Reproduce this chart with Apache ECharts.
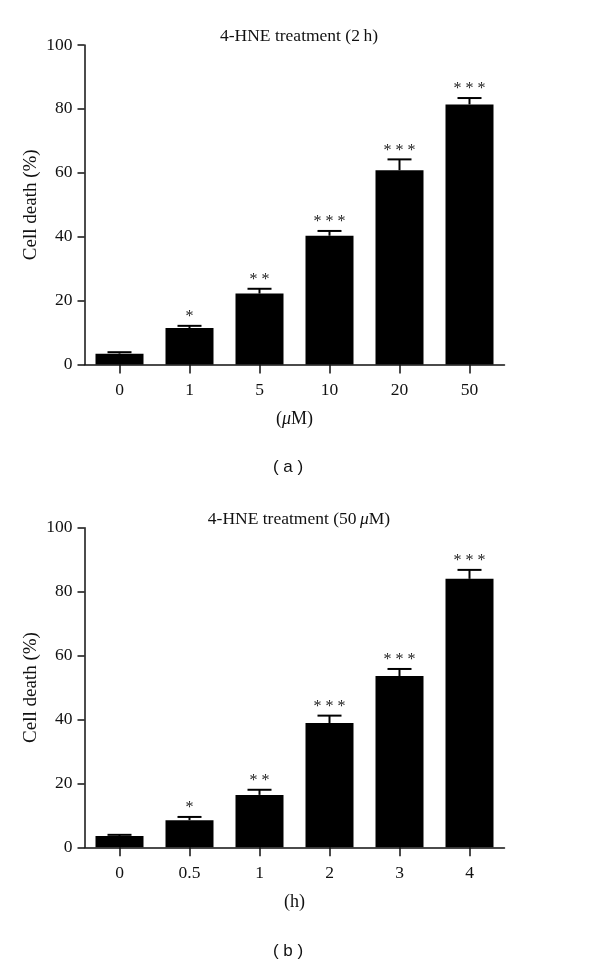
<!DOCTYPE html>
<html>
<head>
<meta charset="utf-8">
<script src="https://cdn.jsdelivr.net/npm/echarts@6/dist/echarts.min.js"></script>
<style>html,body{margin:0;padding:0;background:#fff;}#c{width:600px;height:965px;}</style>
</head>
<body>
<div id="c"></div>
<script>
// Panel (a): 4-HNE treatment for 2 h, dose in µM
var catsA = ['0', '1', '5', '10', '20', '50'];
var valsA = [3.4, 11.4, 22.2, 40.3, 60.8, 81.4];
var errA = [0.45, 0.7, 1.5, 1.5, 3.4, 2.0];
var starsA = ['', '*', '* *', '* * *', '* * *', '* * *'];

// Panel (b): 4-HNE 50 µM, time in h
var catsB = ['0', '0.5', '1', '2', '3', '4'];
var valsB = [3.5, 8.5, 16.4, 38.9, 53.6, 84.0];
var errB = [0.4, 1.0, 1.6, 2.3, 2.2, 2.8];
var starsB = ['', '*', '* *', '* * *', '* * *', '* * *'];

var yTicks = [0, 20, 40, 60, 80, 100];

var SERIF = '"Liberation Serif", "DejaVu Serif", serif';
var SANS = '"Liberation Sans", Arial, sans-serif';

function yAxis(gi) {
  return {
    type: 'value', gridIndex: gi, min: yTicks[0], max: yTicks[yTicks.length - 1], interval: yTicks[1] - yTicks[0],
    name: 'Cell death (%)', nameLocation: 'middle', nameGap: 44, nameMoveOverlap: false,
    nameTextStyle: { fontFamily: SERIF, fontSize: 19, color: '#111' },
    axisLine: { show: true, lineStyle: { color: '#111', width: 1.5 } },
    axisTick: { show: true, length: 7, lineStyle: { color: '#111', width: 1.5 } },
    axisLabel: { margin: 12, fontFamily: SERIF, fontSize: 17.5, color: '#111' },
    splitLine: { show: false }
  };
}
function xAxis(gi, cats, nameRich) {
  return {
    type: 'category', gridIndex: gi, data: cats,
    name: nameRich, nameLocation: 'middle', nameGap: 46,
    nameTextStyle: { fontFamily: SERIF, fontSize: 18, color: '#111', rich: { i: { fontFamily: SERIF, fontSize: 18, fontStyle: 'italic', color: '#111' } } },
    axisLine: { show: true, lineStyle: { color: '#111', width: 1.5 } },
    axisTick: { show: true, alignWithLabel: true, length: 9, lineStyle: { color: '#111', width: 1.5 } },
    axisLabel: { margin: 17, fontFamily: SERIF, fontSize: 17.5, color: '#111' }
  };
}
function errSeries(xi, vals, errs, stars) {
  var data = vals.map(function (v, i) { return [i, v, v + errs[i], stars[i]]; });
  return {
    type: 'custom', xAxisIndex: xi, yAxisIndex: xi, data: data, z: 3,
    renderItem: function (params, api) {
      var x = api.value(0);
      var base = api.coord([x, api.value(1)]);
      var top = api.coord([x, api.value(2)]);
      var half = 12;
      return {
        type: 'group',
        children: [
          { type: 'line', shape: { x1: base[0], y1: base[1], x2: top[0], y2: top[1] }, style: { stroke: '#000', lineWidth: 2 } },
          { type: 'line', shape: { x1: top[0] - half, y1: top[1], x2: top[0] + half, y2: top[1] }, style: { stroke: '#000', lineWidth: 2 } },
          { type: 'text', x: top[0], y: top[1] - 9, style: { text: stars[params.dataIndex], align: 'center', verticalAlign: 'middle', fontFamily: SERIF, fontSize: 16, fill: '#222' } }
        ]
      };
    }
  };
}

var chart = echarts.init(document.getElementById('c'), null, { renderer: 'canvas' });
chart.setOption({
  animation: false,
  backgroundColor: '#fff',
  title: [
    { text: '4-HNE treatment (2\u2009h)', left: 294, top: 22, textAlign: 'center', textStyle: { fontFamily: SERIF, fontSize: 17.5, fontWeight: 'normal', color: '#111' } },
    { text: '4-HNE treatment (50\u2009{i|\u03bc}M)', left: 294, top: 505, textAlign: 'center', textStyle: { fontFamily: SERIF, fontSize: 17.5, fontWeight: 'normal', color: '#111', rich: { i: { fontFamily: SERIF, fontSize: 17.5, fontStyle: 'italic', color: '#111' } } } },
    { text: '( a )', left: 283, top: 454, textAlign: 'center', textStyle: { fontFamily: SANS, fontSize: 17, fontWeight: 'normal', color: '#111' } },
    { text: '( b )', left: 283, top: 938, textAlign: 'center', textStyle: { fontFamily: SANS, fontSize: 17, fontWeight: 'normal', color: '#111' } }
  ],
  grid: [
    { left: 84.5, width: 420, top: 45, height: 319.5 },
    { left: 84.5, width: 420, top: 527.7, height: 319.6 }
  ],
  xAxis: [xAxis(0, catsA, '({i|\u03bc}M)'), xAxis(1, catsB, '(h)')],
  yAxis: [yAxis(0), yAxis(1)],
  series: [
    { type: 'bar', xAxisIndex: 0, yAxisIndex: 0, data: valsA, barWidth: 48, itemStyle: { color: '#000' }, z: 2 },
    errSeries(0, valsA, errA, starsA),
    { type: 'bar', xAxisIndex: 1, yAxisIndex: 1, data: valsB, barWidth: 48, itemStyle: { color: '#000' }, z: 2 },
    errSeries(1, valsB, errB, starsB)
  ]
});
</script>
</body>
</html>
